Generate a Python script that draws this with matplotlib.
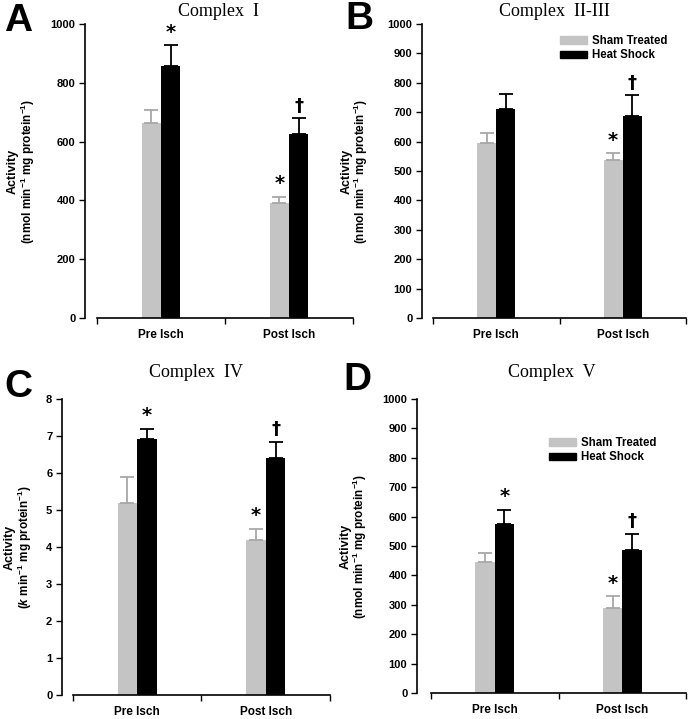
import matplotlib
matplotlib.use('Agg')
import matplotlib.pyplot as plt
from matplotlib.patches import Patch

plt.rcParams['font.family'] = ['Liberation Sans', 'DejaVu Sans']
plt.rcParams['mathtext.fontset'] = 'custom'
plt.rcParams['mathtext.bf'] = 'Liberation Sans:bold'
plt.rcParams['mathtext.rm'] = 'Liberation Sans'
plt.rcParams['mathtext.bfit'] = 'Liberation Sans:bold:italic'

groups = ['Pre Isch', 'Post Isch']
series = ['Sham Treated', 'Heat Shock']

# Complex I
c1_sham = [664, 390]
c1_sham_err = [43, 22]
c1_heat = [858, 626]
c1_heat_err = [70, 54]

# Complex II-III
c23_sham = [594, 536]
c23_sham_err = [34, 25]
c23_heat = [711, 686]
c23_heat_err = [52, 71]

# Complex IV
c4_sham = [5.18, 4.19]
c4_sham_err = [0.70, 0.30]
c4_heat = [6.92, 6.40]
c4_heat_err = [0.27, 0.45]

# Complex V
c5_sham = [444, 289]
c5_sham_err = [32, 40]
c5_heat = [575, 486]
c5_heat_err = [49, 56]

# significance marks: (group index, series index, symbol)
c1_marks = [(0, 1, '*'), (1, 0, '*'), (1, 1, '†')]
c23_marks = [(1, 0, '*'), (1, 1, '†')]
c4_marks = [(0, 1, '*'), (1, 0, '*'), (1, 1, '†')]
c5_marks = [(0, 1, '*'), (1, 0, '*'), (1, 1, '†')]

gray = '#c4c4c4'
W, H = 689, 719
fig = plt.figure(figsize=(W / 100, H / 100), dpi=100)


def panel(rect, xleft, sham, sham_err, heat, heat_err, marks, ymax, ystep,
          title, title_pad, letter, letter_xy, ylab2, lab_off, legend_pos=None):
    l, t, r, b = rect
    ax = fig.add_axes([l / W, 1 - b / H, (r - l) / W, (b - t) / H])
    bw = 0.152
    xs = [0.5, 1.5]
    vals = [sham, heat]
    errs = [sham_err, heat_err]
    cols = [gray, 'black']
    ecols = ['#a8a8a8', 'black']
    for s in range(2):
        pos = [x + (s - 0.5) * bw for x in xs]
        ax.bar(pos, vals[s], bw, color=cols[s], edgecolor='none', zorder=2,
               yerr=[[0, 0], errs[s]], ecolor=ecols[s],
               error_kw=dict(capsize=5, elinewidth=1.3, capthick=1.3))
    for g, s, sym in marks:
        x = xs[g] + (s - 0.5) * bw
        y = vals[s][g] + errs[s][g] + ymax * 0.012
        ax.text(x, y, sym, ha='center', va='bottom', fontsize=14 if sym == '*' else 13,
                fontweight='bold', family='DejaVu Sans', color='black')
    ax.set_xlim(xleft, 2.0)
    ax.set_ylim(0, ymax)
    ax.spines['top'].set_visible(False)
    ax.spines['right'].set_visible(False)
    ax.spines['bottom'].set_bounds(0, 2)
    ax.set_xticks([0, 1, 2])
    ax.set_xticklabels([])
    ax.set_xticks(xs, minor=True)
    ax.set_xticklabels(groups, minor=True, fontsize=8.5, fontweight='bold')
    ax.tick_params(axis='x', which='minor', length=0, pad=8)
    ax.tick_params(axis='x', which='major', length=4, width=1)
    ticks = [i * ystep for i in range(int(round(ymax / ystep)) + 1)]
    ax.set_yticks(ticks)
    ax.set_yticklabels([str(int(v)) for v in ticks], fontsize=8, fontweight='bold')
    ax.tick_params(axis='y', length=4, width=1, pad=3)
    for sp in ['left', 'bottom']:
        ax.spines[sp].set_linewidth(1.2)
    ax.set_title(title, family='Liberation Serif', fontsize=13, pad=title_pad)
    # y label, two lines
    fx = l / W
    fy = 1 - (t + b) / 2 / H
    fig.text(fx - lab_off[0] / W, fy, 'Activity', rotation=90, ha='center', va='center',
             fontsize=9, fontweight='bold')
    fig.text(fx - lab_off[1] / W, fy, ylab2, rotation=90, ha='center', va='center',
             fontsize=8.5, fontweight='bold')
    fig.text(letter_xy[0] / W, 1 - letter_xy[1] / H, letter, ha='left', va='center',
             fontsize=28, fontweight='bold')
    if legend_pos is not None:
        handles = [Patch(color=gray), Patch(color='black')]
        ax.legend(handles, series, loc='upper left', bbox_to_anchor=legend_pos,
                  frameon=False, handlelength=2.35, handleheight=0.6,
                  handletextpad=0.45, labelspacing=0.2, borderaxespad=0,
                  borderpad=0, prop={'weight': 'bold', 'size': 8.3})
    return ax


lab_nmol = r'(nmol min$^{\mathbf{-1}}$ mg protein$^{\mathbf{-1}}$)'
lab_k = r'($\mathbfit{k}$ min$^{\mathbf{-1}}$ mg protein$^{\mathbf{-1}}$)'

panel((85, 24, 353, 318), -0.094, c1_sham, c1_sham_err, c1_heat, c1_heat_err,
      c1_marks, 1000, 200, 'Complex  I', 6, 'A', (4, 21), lab_nmol, (72, 57))
panel((422, 24, 686, 318), -0.087, c23_sham, c23_sham_err, c23_heat, c23_heat_err,
      c23_marks, 1000, 100, 'Complex  II-III', 6, 'B', (345, 19), lab_nmol, (75, 61),
      legend_pos=(0.523, 0.962))
panel((62, 399, 330, 695), -0.085, c4_sham, c4_sham_err, c4_heat, c4_heat_err,
      c4_marks, 8, 1, 'Complex  IV', 16, 'C', (4, 387), lab_k, (52, 37))
panel((417, 399, 686, 693), -0.11, c5_sham, c5_sham_err, c5_heat, c5_heat_err,
      c5_marks, 1000, 100, 'Complex  V', 16, 'D', (343, 380), lab_nmol, (71.5, 57),
      legend_pos=(0.49, 0.871))

fig.savefig('out.png', dpi=100)
